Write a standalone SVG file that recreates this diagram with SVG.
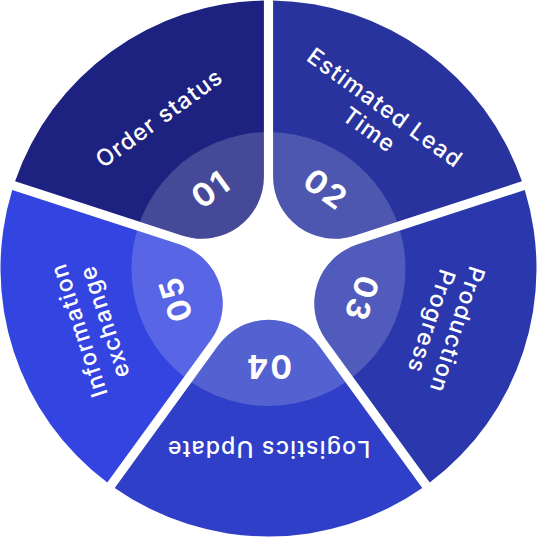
<svg xmlns="http://www.w3.org/2000/svg" xmlns:xlink="http://www.w3.org/1999/xlink" width="537" height="538" viewBox="0 0 537 538">
  <defs>
    <clipPath id="innerClip">
      <circle cx="268.5" cy="269" r="137"/>
    </clipPath>
    <path id="p1" d="M 182.74 235.80 L 15.08 181.32 A 268 268 0 0 1 263.9 0.54 L 263.9 176.83 A 62 62 0 0 1 182.74 235.80 Z"/>
    <path id="p2" d="M 273.1 176.83 L 273.1 0.54 A 268 268 0 0 1 521.92 181.32 L 354.26 235.80 A 62 62 0 0 1 273.1 176.83 Z"/>
    <path id="p3" d="M 357.11 244.55 L 524.77 190.07 A 268 268 0 0 1 429.72 482.58 L 326.11 339.96 A 62 62 0 0 1 357.11 244.55 Z"/>
    <path id="p4" d="M 318.66 345.37 L 422.28 487.99 A 268 268 0 0 1 114.72 487.99 L 218.34 345.37 A 62 62 0 0 1 318.66 345.37 Z"/>
    <path id="p5" d="M 210.90 339.96 L 107.28 482.58 A 268 268 0 0 1 12.23 190.07 L 179.89 244.55 A 62 62 0 0 1 210.90 339.96 Z"/>
  </defs>
  <style>
    .inner { fill: #ffffff; fill-opacity: 0.18; }
    .label { font-family: Inter, "Open Sans", "Liberation Sans", sans-serif; font-weight: 500; font-size: 23px; fill: #ffffff; text-anchor: middle; dominant-baseline: central; letter-spacing: 1.2px; }
    .num { font-family: Inter, "Open Sans", "Liberation Sans", sans-serif; font-weight: 700; font-size: 32px; fill: #ffffff; text-anchor: middle; dominant-baseline: central; letter-spacing: 2px; }
  </style>
  <rect width="537" height="538" fill="#ffffff"/>

  <g id="node-01">
    <use xlink:href="#p1" fill="#1d2180"/>
    <use xlink:href="#p1" class="inner" clip-path="url(#innerClip)"/>
    <text class="label" transform="translate(159.2 118) rotate(-36)">Order status</text>
    <text class="num" transform="translate(210.9 189.2) rotate(-36)">01</text>
  </g>

  <g id="node-02">
    <use xlink:href="#p2" fill="#28339e"/>
    <use xlink:href="#p2" class="inner" clip-path="url(#innerClip)"/>
    <text class="label" transform="translate(377.2 118.8) rotate(36)"><tspan x="0" y="-13.5">Estimated Lead</tspan><tspan x="0" y="13.5">Time</tspan></text>
    <text class="num" transform="translate(326.1 189.2) rotate(36)">02</text>
  </g>

  <g id="node-03">
    <use xlink:href="#p3" fill="#2a37ad"/>
    <use xlink:href="#p3" class="inner" clip-path="url(#innerClip)"/>
    <text class="label" transform="translate(444.4 325.7) rotate(108)"><tspan x="0" y="-13.5">Production</tspan><tspan x="0" y="13.5">Progress</tspan></text>
    <text class="num" transform="translate(361.7 298.8) rotate(108)">03</text>
  </g>

  <g id="node-04">
    <use xlink:href="#p4" fill="#2f3fc7"/>
    <use xlink:href="#p4" class="inner" clip-path="url(#innerClip)"/>
    <text class="label" transform="translate(268.5 448.5) rotate(180)">Logistics Update</text>
    <text class="num" transform="translate(268.5 366.5) rotate(180)">04</text>
  </g>

  <g id="node-05">
    <use xlink:href="#p5" fill="#3444e0"/>
    <use xlink:href="#p5" class="inner" clip-path="url(#innerClip)"/>
    <text class="label" transform="translate(91.6 326) rotate(-108)"><tspan x="0" y="-13.5">Information</tspan><tspan x="0" y="13.5">exchange</tspan></text>
    <text class="num" transform="translate(175.3 298.8) rotate(-108)">05</text>
  </g>

  <g id="connectors"/>
</svg>
